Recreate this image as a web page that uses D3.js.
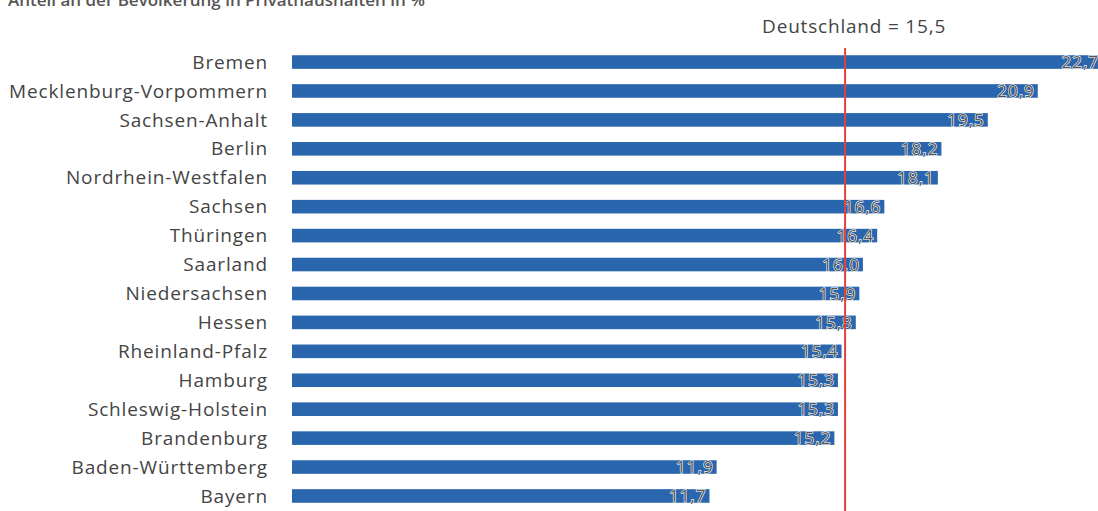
<!DOCTYPE html>
<html>
<head>
<meta charset="utf-8">
<script src="https://cdn.jsdelivr.net/npm/d3@7"></script>
<style>
  body { margin: 0; background: #fff; overflow: hidden; }
  svg { display: block; font-family: "Open Sans", sans-serif; }
</style>
</head>
<body>
<div class="chart"></div>
<script>
// Anteil an der Bevölkerung in Privathaushalten in %
const laender = ["Bremen", "Mecklenburg-Vorpommern", "Sachsen-Anhalt", "Berlin",
  "Nordrhein-Westfalen", "Sachsen", "Thüringen", "Saarland", "Niedersachsen",
  "Hessen", "Rheinland-Pfalz", "Hamburg", "Schleswig-Holstein", "Brandenburg",
  "Baden-Württemberg", "Bayern"];
const werte = [22.7, 20.9, 19.5, 18.2, 18.1, 16.6, 16.4, 16.0, 15.9, 15.8, 15.4,
  15.3, 15.3, 15.2, 11.9, 11.7];
const deutschland = 15.5;
const titel = "Anteil an der Bevölkerung in Privathaushalten in %";

const width = 1098, height = 511;
const fmt = (v) => d3.format(".1f")(v).replace(".", ",");

const svg = d3.select(".chart").append("svg")
  .attr("width", width)
  .attr("height", height);

const x = d3.scaleLinear().domain([0, 22.7]).range([292, 1102]);
const y = d3.scaleBand().domain(laender).range([48, 510]).paddingInner(0.53).paddingOuter(0.25);

// title, cut off at the top edge
svg.append("text")
  .attr("x", 8)
  .attr("y", 6)
  .attr("font-size", 17)
  .attr("font-weight", 600)
  .attr("fill", "#555")
  .text(titel);

// bars
svg.selectAll("rect.bar")
  .data(werte)
  .join("rect")
  .attr("class", "bar")
  .attr("x", x(0))
  .attr("y", (d, i) => y(laender[i]))
  .attr("width", (d) => x(d) - x(0))
  .attr("height", y.bandwidth())
  .attr("fill", "#2a66ae");

// category labels
svg.selectAll("text.cat")
  .data(laender)
  .join("text")
  .attr("class", "cat")
  .attr("x", 268)
  .attr("y", (d) => y(d) + y.bandwidth() / 2)
  .attr("dy", "0.35em")
  .attr("text-anchor", "end")
  .attr("font-size", 19)
  .attr("letter-spacing", 0.85)
  .attr("fill", "#444")
  .text((d) => d);

// value labels inside the bar ends
svg.selectAll("text.val")
  .data(werte)
  .join("text")
  .attr("class", "val")
  .attr("x", (d) => x(d) - 3)
  .attr("y", (d, i) => y(laender[i]) + y.bandwidth() / 2)
  .attr("dy", "0.36em")
  .attr("text-anchor", "end")
  .attr("font-size", 17)
  .attr("letter-spacing", 1)
  .attr("fill", "#555")
  .attr("stroke", "#fff")
  .attr("stroke-width", 1.2)
  .attr("paint-order", "stroke")
  .text((d) => fmt(d));

// reference line for Deutschland
svg.append("line")
  .attr("x1", x(deutschland))
  .attr("x2", x(deutschland))
  .attr("y1", 48)
  .attr("y2", height)
  .attr("stroke", "#e8413c")
  .attr("stroke-width", 2);

svg.append("text")
  .attr("x", x(deutschland) + 9)
  .attr("y", 33)
  .attr("text-anchor", "middle")
  .attr("font-size", 19)
  .attr("letter-spacing", 0.8)
  .attr("fill", "#444")
  .text("Deutschland = " + fmt(deutschland));
</script>
</body>
</html>
